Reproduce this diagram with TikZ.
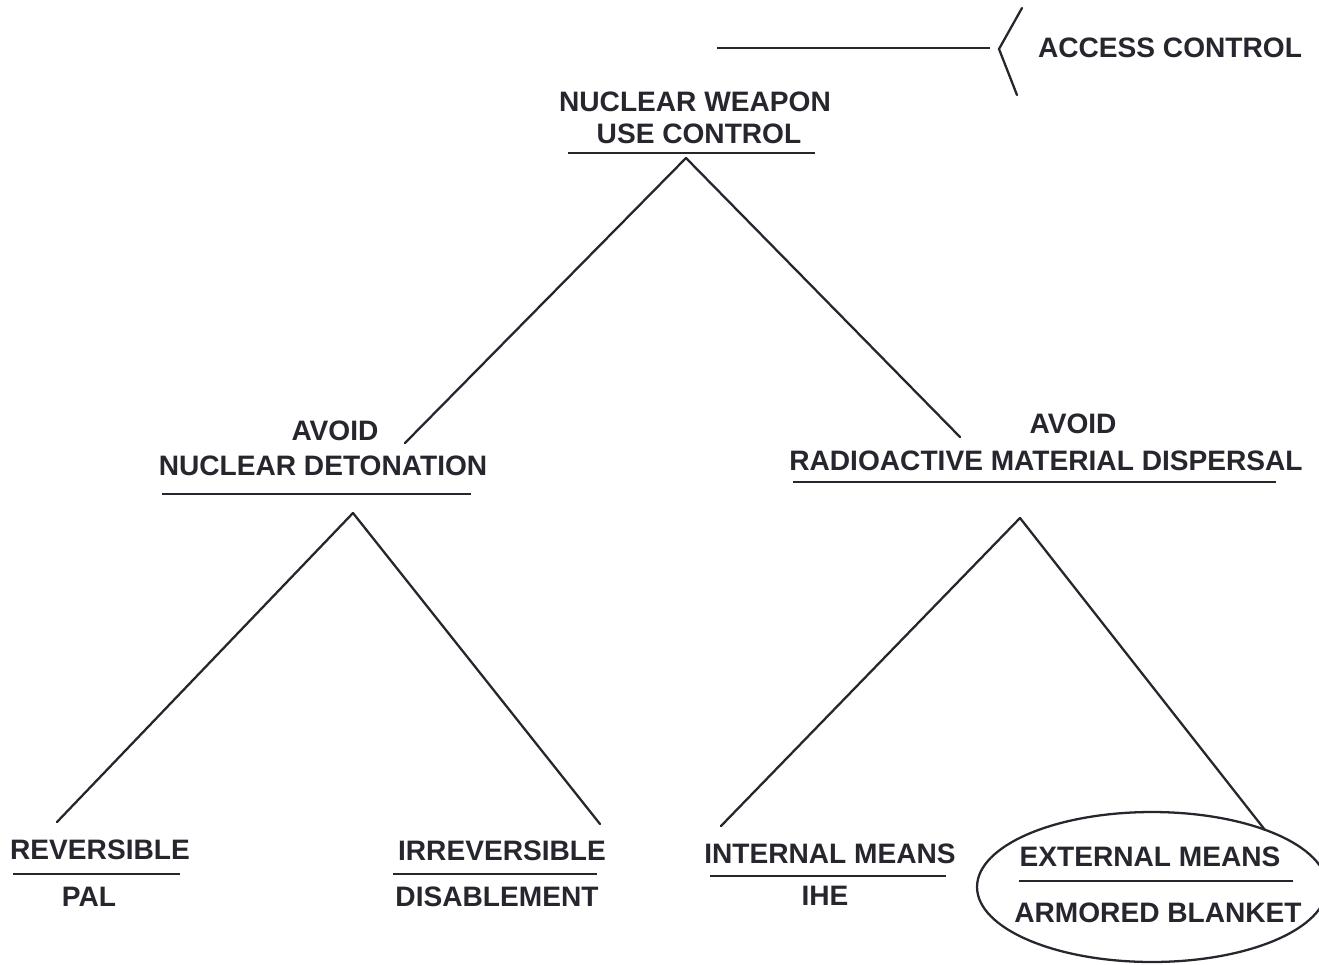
\documentclass[tikz,border=0pt]{standalone}
\usepackage{fontspec}
\setmainfont{Liberation Sans}
\definecolor{ink}{HTML}{26262E}
\tikzset{
  lbl/.style={anchor=base, inner sep=0pt, text=ink, font=\bfseries\fontsize{16}{19}\selectfont},
  rule/.style={draw=ink, line width=1.3pt},
  branch/.style={draw=ink, line width=1.3pt, line cap=round}
}
\begin{document}
\begin{tikzpicture}[x=0.02cm, y=-0.02cm]
	\useasboundingbox (0,0) rectangle (1319,964);
	% top: access control
	\node[lbl] (access) at (1170,57) {ACCESS CONTROL};
	\coordinate (accL) at (717,48);
	\coordinate (accR) at (990,48);
	\coordinate (brT) at (1022,8);
	\coordinate (brM) at (999,49);
	\coordinate (brB) at (1017,95);
	\draw[rule] (accL) -- (accR);
	\draw[branch] (brT) -- (brM) -- (brB);
	
	% root
	\node[lbl] (nw1) at (695,111) {NUCLEAR WEAPON};
	\node[lbl] (nw2) at (699,143) {USE CONTROL};
	\draw[rule] (568,153) coordinate (nwulL) -- (815,153) coordinate (nwulR);
	\coordinate (nwTip) at (686,158);
	
	% level 2
	\node[lbl] (avL) at (335,440) {AVOID};
	\node[lbl] (det) at (323,475) {NUCLEAR DETONATION};
	\draw[rule] (162,494) coordinate (detulL) -- (471,494) coordinate (detulR);
	\coordinate (detIn) at (405,443);
	\coordinate (detTip) at (353,513);
	
	\node[lbl] (avR) at (1073,433) {AVOID};
	\node[lbl] (disp) at (1046,470) {RADIOACTIVE MATERIAL DISPERSAL};
	\draw[rule] (793,482) coordinate (dispulL) -- (1276,482) coordinate (dispulR);
	\coordinate (dispIn) at (960,437);
	\coordinate (dispTip) at (1020,518);
	
	\draw[branch] (nwTip) -- (detIn);
	\draw[branch] (nwTip) -- (dispIn);
	
	% level 3
	\node[lbl] (rev) at (100,859) {REVERSIBLE};
	\node[lbl] (pal) at (89,906) {PAL};
	\draw[rule] (13,874) coordinate (revulL) -- (180,874) coordinate (revulR);
	\coordinate (revIn) at (57,822);
	
	\node[lbl] (irr) at (502,860) {IRREVERSIBLE};
	\node[lbl] (dis) at (497,906) {DISABLEMENT};
	\draw[rule] (393,874) coordinate (irrulL) -- (597,874) coordinate (irrulR);
	\coordinate (irrIn) at (600,824);
	
	\node[lbl] (intm) at (830,863) {INTERNAL MEANS};
	\node[lbl] (ihe) at (825,905) {IHE};
	\draw[rule] (710,876) coordinate (intulL) -- (946,876) coordinate (intulR);
	\coordinate (intIn) at (721,826);
	
	\node[lbl] (extm) at (1150,866) {EXTERNAL MEANS};
	\node[lbl] (arm) at (1158,922) {ARMORED BLANKET};
	\draw[rule] (1019,881) coordinate (extulL) -- (1293,881) coordinate (extulR);
	\coordinate (extIn) at (1265,830);
	\draw[rule] (1152,887) ellipse [x radius=3.5cm, y radius=1.5cm];
	
	\draw[branch] (detTip) -- (revIn);
	\draw[branch] (detTip) -- (irrIn);
	\draw[branch] (dispTip) -- (intIn);
	\draw[branch] (dispTip) -- (extIn);
\end{tikzpicture}
\end{document}
